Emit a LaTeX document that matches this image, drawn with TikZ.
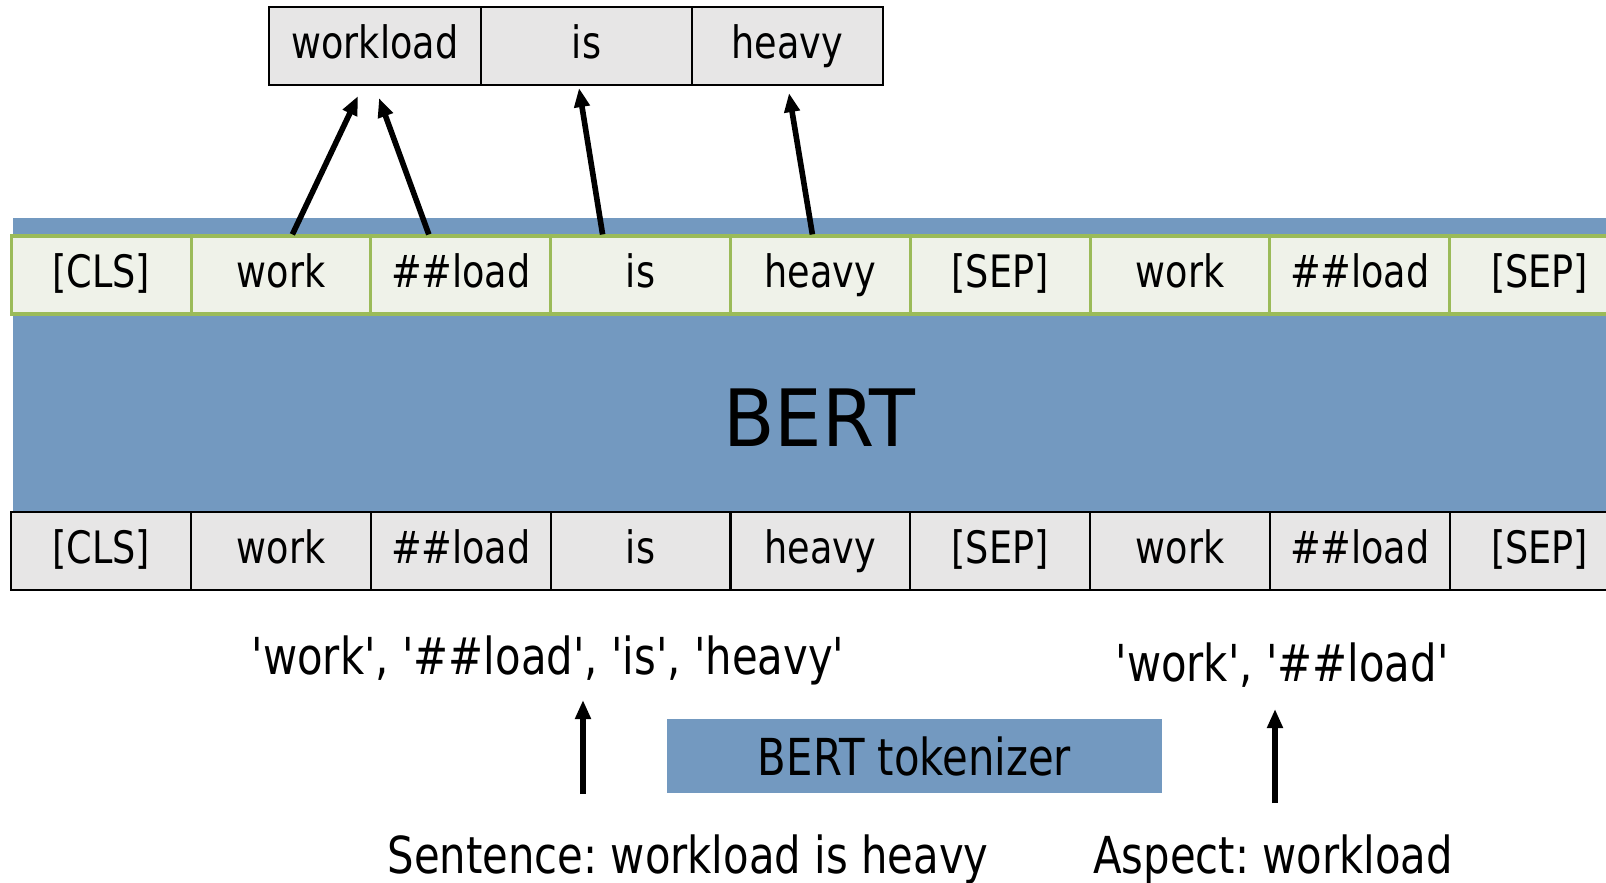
\documentclass[tikz,border=0pt]{standalone}
\usepackage{fontspec}
\setmainfont{DejaVu Sans}[FakeStretch=0.82, Ligatures=TeXOff]
\newfontfamily\bertfont{DejaVu Sans}[FakeStretch=0.95]
\usetikzlibrary{arrows.meta,calc}
\definecolor{bertblue}{RGB}{115,153,192}
\definecolor{cellgrey}{RGB}{231,230,230}
\definecolor{cellgreen}{RGB}{239,242,233}
\definecolor{edgegreen}{RGB}{155,187,89}
\newcommand{\tokfont}{\fontsize{12.7}{15}\selectfont}
\newcommand{\capfont}{\fontsize{14.5}{17}\selectfont}
\frenchspacing

\begin{document}
\begin{tikzpicture}[x=0.1mm, y=-0.1mm,
    cell/.style={rectangle, draw=black, fill=cellgrey, line width=0.6pt, minimum width=17.98mm,
        minimum height=7.8mm, inner sep=0pt, font=\tokfont, text height=9.5pt, text depth=2.5pt},
    hcell/.style={cell, draw=edgegreen, fill=cellgreen, line width=0.9pt},
    caption/.style={font=\capfont, inner sep=0pt, anchor=base},
    arr/.style={-{Triangle[length=1.9mm,width=1.5mm]}, line width=1.6pt}]
    \clip (0,0) rectangle (1606,883);

    % encoder band
    \fill[bertblue] (13,218) rectangle (1625,512);
    \node[font=\bertfont\fontsize{22.5}{27}\selectfont, anchor=base, inner sep=0pt] (bert) at (819,447) {BERT};

    % token rows (output on top, input below)
    \foreach \t [count=\i] in {{[CLS]},work,\#\#load,is,heavy,{[SEP]},work,\#\#load,{[SEP]}} {
        \pgfmathsetmacro{\cx}{11.3+179.8*(\i-0.5)}
        \node[hcell] (up\i) at (\cx,275) {\t};
        \node[cell]  (lo\i) at (\cx,551) {\t};
    }

    % pooled words
    \node[cell, minimum width=21.2mm] (w1) at (375,46) {workload};
    \node[cell, minimum width=21.1mm] (w2) at (586.5,46) {is};
    \node[cell, minimum width=19.1mm] (w3) at (787.5,46) {heavy};

    \draw[arr] ([xshift=1.14mm]up2.north) -- ($(w1.south)+(-17,10)$);
    \draw[arr] ([xshift=-3.2mm]up3.north) -- ($(w1.south)+(4,12)$);
    \draw[arr] ([xshift=-3.8mm]up4.north) -- ($(w2.south)+(-7.5,2)$);
    \draw[arr] ([xshift=-0.8mm]up5.north) -- ($(w3.south)+(1.5,7)$);

    % tokenizer
    \node[caption] (subw) at (548,674) {'work', '\#\#load', 'is', 'heavy'};
    \node[caption] (aspw) at (1282,681) {'work', '\#\#load'};
    \node[fill=bertblue, minimum width=49.5mm, minimum height=7.4mm, inner sep=0pt, font=\capfont] (tkn) at (914.5,756) {BERT tokenizer};
    \node[caption] (sent) at (688,873) {Sentence: workload is heavy};
    \node[caption] (asp) at (1273,873) {Aspect: workload};

    \coordinate (senttail) at (583,794);
    \coordinate (asptail) at (1275,803);
    \draw[arr] (senttail) -- ($(senttail)+(0,-94)$);
    \draw[arr] (asptail) -- ($(asptail)+(0,-94)$);
\end{tikzpicture}
\end{document}
